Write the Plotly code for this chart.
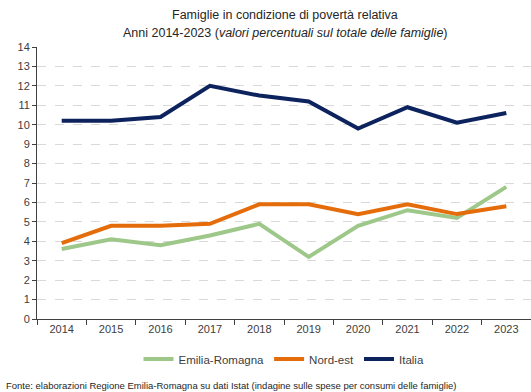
import plotly.graph_objects as go

years = ["2014", "2015", "2016", "2017", "2018", "2019", "2020", "2021", "2022", "2023"]
emilia_romagna = [3.6, 4.1, 3.8, 4.3, 4.9, 3.2, 4.8, 5.6, 5.2, 6.8]
nord_est = [3.9, 4.8, 4.8, 4.9, 5.9, 5.9, 5.4, 5.9, 5.4, 5.8]
italia = [10.2, 10.2, 10.4, 12.0, 11.5, 11.2, 9.8, 10.9, 10.1, 10.6]
y_ticks = list(range(0, 15))

FONT = "Liberation Sans"
W, H = 531, 392
L, R, T, B = 37, 0, 47, 73
pw = W - L - R
ph = H - T - B

def py(pix):
    # convert picture y pixel to paper coordinate
    return (H - B - pix) / ph

def px(pix):
    return (pix - L) / pw

fig = go.Figure()
for name, vals, col in [
    ("Emilia-Romagna", emilia_romagna, "#9dc88a"),
    ("Nord-est", nord_est, "#e46c0a"),
    ("Italia", italia, "#0c235e"),
]:
    fig.add_trace(go.Scatter(x=years, y=vals, name=name, mode="lines",
                             line=dict(color=col, width=4)))

fig.update_layout(
    width=W, height=H,
    margin=dict(l=L, r=R, t=T, b=B),
    paper_bgcolor="white", plot_bgcolor="white",
    font=dict(family=FONT, size=11, color="#404040"),
    showlegend=True,
    legend=dict(orientation="h", x=0.5, xanchor="center", xref="paper",
                y=py(359), yanchor="middle", font=dict(size=11.5, color="#404040"),
                itemwidth=30, tracegroupgap=0),
    xaxis=dict(type="category", range=[-0.5, 9.5], tickson="boundaries", ticks="outside", ticklen=5,
               tickcolor="#404040", showline=True, linecolor="#404040", linewidth=1,
               showgrid=False, tickfont=dict(size=11), fixedrange=True),
    yaxis=dict(range=[0, 14], tickvals=y_ticks, ticks="outside", ticklen=4,
               tickcolor="#404040", showline=True, linecolor="#404040", linewidth=1,
               showgrid=True, gridcolor="#d9d9d9", griddash="dash", gridwidth=1,
               zeroline=False, tickfont=dict(size=11)),
)

fig.add_annotation(
    text="Famiglie in condizione di povertà relativa",
    xref="paper", yref="paper", x=px(285), y=py(15), xanchor="center", yanchor="middle",
    showarrow=False, font=dict(family=FONT, size=12.5, color="#262626"),
)
fig.add_annotation(
    text="Anni 2014-2023 (<i>valori percentuali sul totale delle famiglie</i>)",
    xref="paper", yref="paper", x=px(285), y=py(33), xanchor="center", yanchor="middle",
    showarrow=False, font=dict(family=FONT, size=12.5, color="#262626"),
)
fig.add_annotation(
    text="Fonte: elaborazioni Regione Emilia-Romagna su dati Istat (indagine sulle spese per consumi delle famiglie)",
    xref="paper", yref="paper", x=px(4), y=py(385),
    xanchor="left", yanchor="middle", showarrow=False,
    font=dict(family=FONT, size=9.5, color="#262626"),
)

fig.write_html("out.html")
